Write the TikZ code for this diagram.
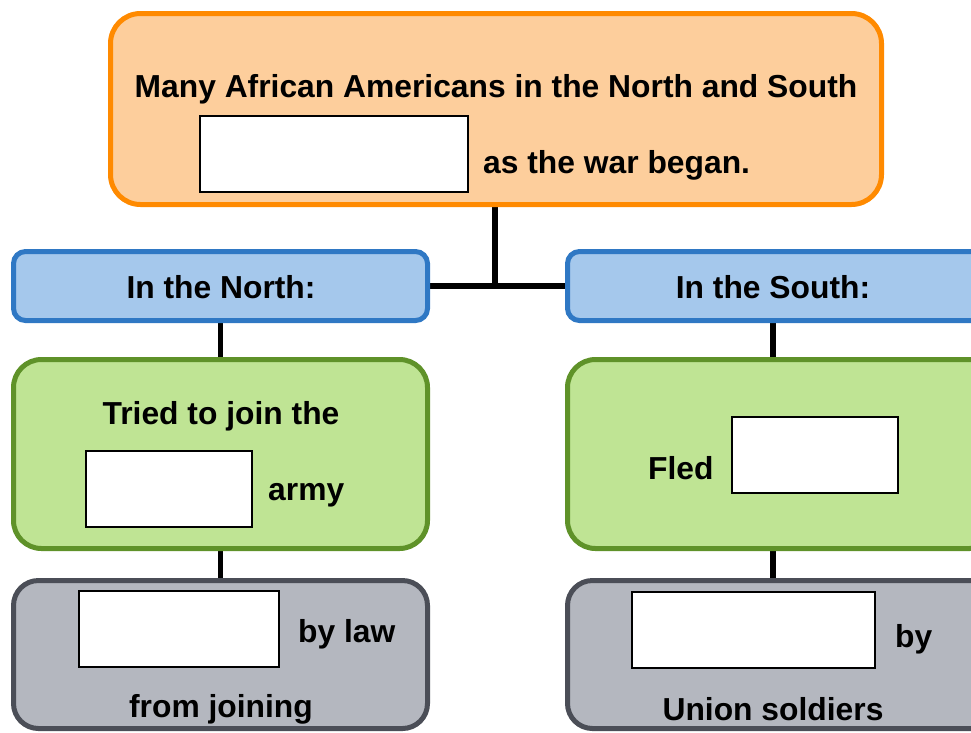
\documentclass[tikz,border=0pt]{standalone}
\usepackage{fontspec}
\setmainfont{Liberation Sans}
\usetikzlibrary{backgrounds}
\definecolor{orB}{HTML}{FF8A00}
\definecolor{orF}{HTML}{FDCE9C}
\definecolor{blB}{HTML}{2F78C4}
\definecolor{blF}{HTML}{A5C8EC}
\definecolor{grB}{HTML}{5F9229}
\definecolor{grF}{HTML}{BFE494}
\definecolor{gyB}{HTML}{4B4E57}
\definecolor{gyF}{HTML}{B4B7BF}
\tikzset{
  panel/.style={rectangle, line width=5pt, inner sep=0pt},
  orangebox/.style={panel, draw=orB, fill=orF, rounded corners=30pt},
  bluebox/.style={panel, draw=blB, fill=blF, rounded corners=12pt},
  greenbox/.style={panel, draw=grB, fill=grF, rounded corners=28pt},
  graybox/.style={panel, draw=gyB, fill=gyF, rounded corners=25pt},
  blank/.style={rectangle, draw=black, fill=white, line width=2pt, inner sep=0pt},
  txt/.style={inner sep=0pt, font=\fontsize{31.8}{36}\selectfont\bfseries},
  conn/.style={line width=5.5pt, draw=black}
}
\begin{document}
\begin{tikzpicture}[x=1pt,y=-1pt]
\useasboundingbox (0,0) rectangle (971,732);
\clip (0,0) rectangle (971,732);
% top
\node[orangebox, minimum width=771pt, minimum height=191pt] (top) at (496,109) {};
\node[txt, anchor=base] (t1) at (496,97) {Many African Americans in the North and South};
\node[blank, minimum width=268pt, minimum height=76pt] (b1) at (334,154) {};
\node[txt, anchor=base west] (t2) at (483,173) {as the war began.};
% blue headers
\node[bluebox, minimum width=414pt, minimum height=69pt] (north) at (220.5,286) {};
\node[txt, anchor=base] (tn) at (221,298) {In the North:};
\node[bluebox, minimum width=430pt, minimum height=69pt] (south) at (782.5,286) {};
\node[txt, anchor=base] (ts) at (773,298) {In the South:};
% green
\node[greenbox, minimum width=414pt, minimum height=189pt] (ng) at (220.5,454) {};
\node[txt, anchor=base] (tg1) at (221,424) {Tried to join the};
\node[blank, minimum width=166pt, minimum height=76pt] (b2) at (169,488.5) {};
\node[txt, anchor=base west] (tg2) at (268,500) {army};
\node[greenbox, minimum width=430pt, minimum height=189pt] (sg) at (782.5,454) {};
\node[txt, anchor=base west] (tg3) at (648,479) {Fled};
\node[blank, minimum width=166pt, minimum height=76pt] (b3) at (815,455) {};
% gray
\node[graybox, minimum width=414pt, minimum height=148pt] (ny) at (220.5,654.5) {};
\node[blank, minimum width=200pt, minimum height=76pt] (b4) at (179,628.5) {};
\node[txt, anchor=base west] (ty1) at (298,642) {by law};
\node[txt, anchor=base] (ty2) at (221,717) {from joining};
\node[graybox, minimum width=430pt, minimum height=148pt] (sy) at (782.5,654.5) {};
\node[blank, minimum width=243pt, minimum height=76pt] (b5) at (753.5,629.5) {};
\node[txt, anchor=base west] (ty3) at (895,647) {by};
\node[txt, anchor=base] (ty4) at (773,720) {Union soldiers};
% connectors
\coordinate (j) at (495,287);
\coordinate (sx) at (773,0);
\begin{scope}[on background layer]
\draw[conn] (top.south -| j) -- (j);
\draw[conn] (north.east) -- (south.west);
\draw[conn] (north.south) -- (ng.north);
\draw[conn] (south.south -| sx) -- (sg.north -| sx);
\draw[conn] (ng.south) -- (ny.north);
\draw[conn] (sg.south -| sx) -- (sy.north -| sx);
\end{scope}
\end{tikzpicture}
\end{document}
